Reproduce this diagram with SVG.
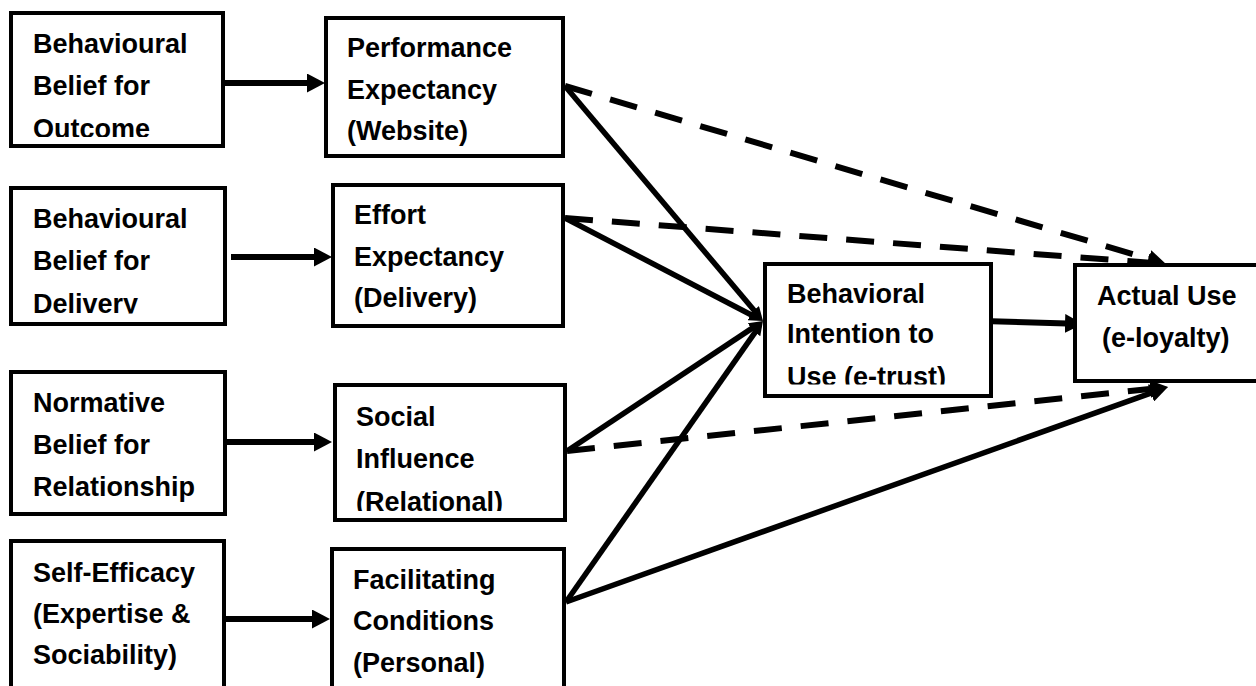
<svg xmlns="http://www.w3.org/2000/svg" width="1256" height="686" viewBox="0 0 1256 686">
<style>
.box{fill:#fff;stroke:#000;stroke-width:4}
.t{font-family:"Liberation Sans",Arial,sans-serif;font-weight:bold;font-size:27px;fill:#000}
.c{stroke:#000;fill:none}
.h{stroke-width:6}
.s{stroke-width:5.5}
.d{stroke-width:6;stroke-dasharray:28 19}
</style>
<defs>
<marker id="ah" markerUnits="userSpaceOnUse" markerWidth="18" markerHeight="19" viewBox="0 0 18 19" refX="2" refY="9.5" orient="auto"><path d="M0,0 L18,9.5 L0,19 z" fill="#000"/></marker>
<marker id="am" markerUnits="userSpaceOnUse" markerWidth="18" markerHeight="18" viewBox="0 0 18 18" refX="2" refY="9" orient="auto"><path d="M0,0 L18,9 L0,18 z" fill="#000"/></marker>
<marker id="as" markerUnits="userSpaceOnUse" markerWidth="14" markerHeight="13" viewBox="0 0 14 13" refX="2" refY="6.5" orient="auto"><path d="M0,0 L14,6.5 L0,13 z" fill="#000"/></marker>
<clipPath id="cp1"><rect x="0" y="0" width="240" height="137"/></clipPath>
<clipPath id="cp2"><rect x="0" y="180" width="240" height="133.5"/></clipPath>
<clipPath id="cp6"><rect x="330" y="380" width="240" height="131"/></clipPath>
<clipPath id="cp9"><rect x="760" y="260" width="240" height="124.5"/></clipPath>
</defs>

<g id="connectors">
<line class="c h" x1="225" y1="83" x2="309" y2="83" marker-end="url(#ah)"/>
<line class="c h" x1="231" y1="257" x2="316" y2="257" marker-end="url(#ah)"/>
<line class="c h" x1="227" y1="442" x2="316" y2="442" marker-end="url(#ah)"/>
<line class="c h" x1="226" y1="619" x2="314" y2="619" marker-end="url(#ah)"/>
<line class="c s" x1="565" y1="86" x2="755.3" y2="311.8" marker-end="url(#as)"/>
<line class="c s" x1="565" y1="218" x2="752.4" y2="315.5" marker-end="url(#as)"/>
<line class="c s" x1="567" y1="451" x2="753" y2="327.6" marker-end="url(#as)"/>
<line class="c s" x1="566" y1="602" x2="756.1" y2="330.8" marker-end="url(#as)"/>
<line class="c d" x1="565" y1="86" x2="1150.6" y2="259.4" marker-end="url(#am)"/>
<line class="c d" x1="565" y1="218" x2="1150" y2="262.8" marker-end="url(#am)"/>
<line class="c d" x1="567" y1="451" x2="1152.1" y2="388.7" marker-end="url(#am)"/>
<line class="c s" x1="566" y1="602" x2="1152.9" y2="392.4" marker-end="url(#am)"/>
<line class="c h" x1="983" y1="321" x2="1067" y2="323.5" marker-end="url(#ah)"/>
</g>

<g id="node-outcome">
<rect class="box" x="11" y="13" width="212" height="133"/>
<g clip-path="url(#cp1)"><text class="t" x="33" y="53">Behavioural</text><text class="t" x="33" y="95">Belief for</text><text class="t" x="33" y="138">Outcome</text></g>
</g>
<g id="node-performance">
<rect class="box" x="326" y="18" width="237" height="138"/>
<text class="t" x="347" y="57">Performance</text><text class="t" x="347" y="99">Expectancy</text><text class="t" x="347" y="140">(Website)</text>
</g>
<g id="node-delivery">
<rect class="box" x="11" y="188" width="214" height="136"/>
<g clip-path="url(#cp2)"><text class="t" x="33" y="228">Behavioural</text><text class="t" x="33" y="270">Belief for</text><text class="t" x="33" y="313">Delivery</text></g>
</g>
<g id="node-effort">
<rect class="box" x="333" y="185" width="230" height="141"/>
<text class="t" x="354" y="224">Effort</text><text class="t" x="354" y="266">Expectancy</text><text class="t" x="354" y="307">(Delivery)</text>
</g>
<g id="node-normative">
<rect class="box" x="11" y="372" width="214" height="142"/>
<text class="t" x="33" y="412">Normative</text><text class="t" x="33" y="454">Belief for</text><text class="t" x="33" y="496">Relationship</text>
</g>
<g id="node-social">
<rect class="box" x="335" y="385" width="230" height="135"/>
<g clip-path="url(#cp6)"><text class="t" x="356" y="426">Social</text><text class="t" x="356" y="468">Influence</text><text class="t" x="356" y="511">(Relational)</text></g>
</g>
<g id="node-selfefficacy">
<rect class="box" x="11" y="541" width="213" height="200"/>
<text class="t" x="33" y="582">Self-Efficacy</text><text class="t" x="33" y="623">(Expertise &amp;</text><text class="t" x="33" y="664">Sociability)</text>
</g>
<g id="node-facilitating">
<rect class="box" x="332" y="549" width="232" height="200"/>
<text class="t" x="353" y="589">Facilitating</text><text class="t" x="353" y="630">Conditions</text><text class="t" x="353" y="672">(Personal)</text>
</g>
<g id="node-intention">
<rect class="box" x="765" y="264" width="226" height="132"/>
<g clip-path="url(#cp9)"><text class="t" x="787" y="303">Behavioral</text><text class="t" x="787" y="343">Intention to</text><text class="t" x="787" y="386">Use (e-trust)</text></g>
</g>
<g id="node-actualuse">
<rect class="box" x="1075" y="265" width="250" height="116"/>
<text class="t" x="1097" y="305">Actual Use</text><text class="t" x="1102" y="347">(e-loyalty)</text>
</g>
</svg>
